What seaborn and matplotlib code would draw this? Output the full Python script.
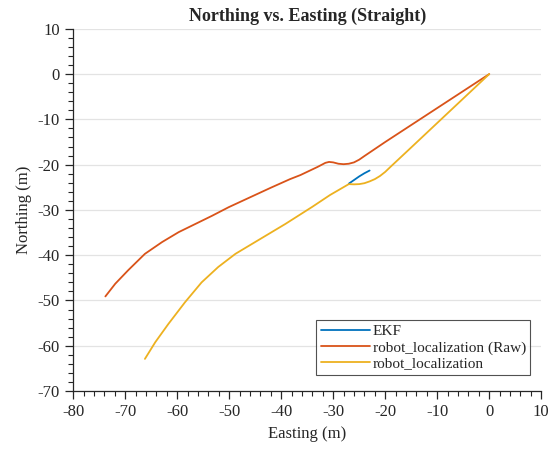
import matplotlib
matplotlib.use("Agg")
import matplotlib.pyplot as plt
import seaborn as sns
from matplotlib.ticker import MultipleLocator

# ---- data ----
ekf_e = [-27.0, -26.0, -25.0, -24.0, -23.0]
ekf_n = [-24.2, -23.4, -22.6, -21.9, -21.3]

raw_e = [0, -5, -10, -15, -20, -24, -25, -26, -27, -28, -29, -30, -30.8, -31.5, -33,
         -36.3, -38.3, -42, -46.9, -50.1, -53.3, -56.5, -59.7, -62.9, -66.2, -69.4,
         -71.9, -73.8]
raw_n = [0, -3.75, -7.5, -11.25, -15, -18.1, -18.9, -19.5, -19.8, -19.9, -19.8, -19.5,
         -19.4, -19.6, -20.5, -22.3, -23.2, -25.1, -27.7, -29.4, -31.3, -33.1, -34.9,
         -37.1, -39.7, -43.3, -46.3, -49.1]

rl_e = [0, -5, -10, -15, -19, -20, -21, -22, -23, -24, -25, -26, -27, -30.6, -34,
        -39.2, -42.4, -45.6, -48.8, -52.1, -55.3, -58.5, -61.7, -64.2, -66.2]
rl_n = [0, -5.4, -10.8, -16.2, -20.5, -21.6, -22.5, -23.2, -23.7, -24.1, -24.3, -24.35,
        -24.3, -26.7, -29.3, -33.1, -35.3, -37.5, -39.7, -42.6, -46.0, -50.4, -55.2,
        -59.2, -62.9]

labels = ["EKF", "robot_localization (Raw)", "robot_localization"]
colors = ["#0072BD", "#D95319", "#EDB120"]

sns.set_style("white")
plt.rcParams['font.family'] = ['Liberation Serif', 'DejaVu Serif']
plt.rcParams['axes.unicode_minus'] = False

fig = plt.figure(figsize=(5.54, 4.5), dpi=100)
ax = fig.add_axes([0.132, 0.131, 0.845, 0.805])

for e, n, lab, c in zip([ekf_e, raw_e, rl_e], [ekf_n, raw_n, rl_n], labels, colors):
    sns.lineplot(x=e, y=n, sort=False, estimator=None, color=c, linewidth=1.3,
                 label=lab, ax=ax)

ax.set_xlim(-80, 10)
ax.set_ylim(-70, 10)
ax.xaxis.set_major_locator(MultipleLocator(10))
ax.yaxis.set_major_locator(MultipleLocator(10))
ax.xaxis.set_minor_locator(MultipleLocator(2))
ax.yaxis.set_minor_locator(MultipleLocator(2))
ax.grid(axis='y', which='major', color='#e3e3e3', linewidth=0.9)
ax.set_axisbelow(True)
for s in ['top', 'right']:
    ax.spines[s].set_visible(False)
for s in ['left', 'bottom']:
    ax.spines[s].set_color('#262626')
    ax.spines[s].set_linewidth(0.9)
ax.tick_params(which='major', direction='out', length=6, width=0.9, color='#262626',
               labelsize=12, labelcolor='#262626', left=True, bottom=True)
ax.tick_params(which='minor', direction='out', length=3.5, width=0.8, color='#262626',
               left=True, bottom=True)

ax.set_xlabel("Easting (m)", fontsize=12, color='#262626')
ax.set_ylabel("Northing (m)", fontsize=12, color='#262626')
ax.set_title("Northing vs. Easting (Straight)", fontsize=13, fontweight='bold', pad=6)

leg = ax.legend(loc='lower right', bbox_to_anchor=(0.977, 0.044), fontsize=11,
                frameon=True, fancybox=False, handlelength=3.2, handletextpad=0.2,
                borderpad=0.3, labelspacing=0.15, borderaxespad=0)
leg.get_frame().set_edgecolor('#262626')
leg.get_frame().set_linewidth(0.8)

fig.savefig("out.png", dpi=100)
